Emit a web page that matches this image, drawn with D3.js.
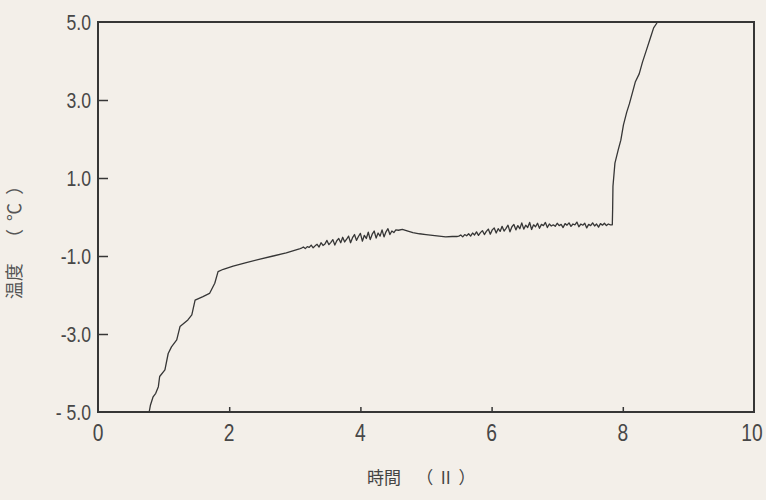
<!DOCTYPE html>
<html>
<head>
<meta charset="utf-8">
<script src="https://cdn.jsdelivr.net/npm/d3@7"></script>
<style>
  body { margin: 0; background: #f3efe9; }
  svg { display: block; }
</style>
</head>
<body>
<div id="chart"></div>
<script>
// Tick labels
const xTicks = [0, 2, 4, 6, 8, 10];
const yTicks = [5, 3, 1, -1, -3, -5];
const yTickLabels = ['5.0', '3.0', '1.0', '-1.0', '-3.0', '- 5.0'];

// Readings [hour, temperature]
const cooling = [
  [0.78, -5.00], [0.80, -4.82], [0.84, -4.61], [0.88, -4.52], [0.92, -4.35],
  [0.94, -4.09], [1.02, -3.92], [1.07, -3.50], [1.12, -3.33], [1.20, -3.15],
  [1.25, -2.81], [1.37, -2.64], [1.43, -2.51], [1.48, -2.13], [1.60, -2.04],
  [1.70, -1.96], [1.78, -1.70], [1.83, -1.40], [1.91, -1.34], [2.06, -1.26],
  [2.26, -1.17], [2.47, -1.08], [2.67, -1.00], [2.87, -0.92], [3.07, -0.82],
];
const plateau1 = [
  [3.10, -0.80], [3.13, -0.77], [3.16, -0.81], [3.19, -0.76], [3.22, -0.78],
  [3.25, -0.72], [3.28, -0.79], [3.31, -0.74], [3.34, -0.70], [3.37, -0.77],
  [3.40, -0.66], [3.43, -0.73], [3.46, -0.69], [3.49, -0.60], [3.52, -0.71],
  [3.55, -0.65], [3.58, -0.58], [3.61, -0.72], [3.64, -0.61], [3.67, -0.55],
  [3.70, -0.66], [3.73, -0.52], [3.76, -0.64], [3.79, -0.57], [3.82, -0.49],
  [3.85, -0.66], [3.88, -0.53], [3.91, -0.45], [3.94, -0.60], [3.97, -0.50],
  [4.00, -0.42], [4.03, -0.62], [4.06, -0.47], [4.09, -0.55], [4.12, -0.39],
  [4.15, -0.58], [4.18, -0.44], [4.21, -0.36], [4.24, -0.54], [4.27, -0.41],
  [4.30, -0.49], [4.33, -0.33], [4.36, -0.51], [4.39, -0.38], [4.42, -0.30],
  [4.45, -0.45], [4.48, -0.36], [4.51, -0.40], [4.54, -0.33], [4.58, -0.34],
];
const dip = [
  [4.64, -0.32], [4.70, -0.35], [4.80, -0.40], [4.90, -0.43], [5.00, -0.45],
  [5.10, -0.47], [5.20, -0.49], [5.30, -0.51], [5.40, -0.50], [5.47, -0.50],
];
const plateau2 = [
  [5.50, -0.49], [5.53, -0.46], [5.56, -0.51], [5.59, -0.45], [5.62, -0.48],
  [5.65, -0.43], [5.68, -0.49], [5.71, -0.41], [5.74, -0.46], [5.77, -0.38],
  [5.80, -0.47], [5.83, -0.40], [5.86, -0.35], [5.89, -0.45], [5.92, -0.37],
  [5.95, -0.31], [5.98, -0.44], [6.01, -0.33], [6.04, -0.28], [6.07, -0.41],
  [6.10, -0.30], [6.13, -0.37], [6.16, -0.24], [6.19, -0.36], [6.22, -0.29],
  [6.25, -0.21], [6.28, -0.38], [6.31, -0.25], [6.34, -0.19], [6.37, -0.33],
  [6.40, -0.22], [6.43, -0.30], [6.46, -0.15], [6.49, -0.31], [6.52, -0.21],
  [6.55, -0.27], [6.58, -0.14], [6.61, -0.32], [6.64, -0.20], [6.67, -0.25],
  [6.70, -0.16], [6.73, -0.29], [6.76, -0.19], [6.79, -0.22], [6.82, -0.14],
  [6.85, -0.27], [6.88, -0.18], [6.91, -0.23], [6.94, -0.20], [6.97, -0.24],
  [7.00, -0.16], [7.03, -0.22], [7.06, -0.19], [7.09, -0.27], [7.12, -0.17],
  [7.15, -0.21], [7.18, -0.15], [7.21, -0.24], [7.24, -0.18], [7.27, -0.20],
  [7.30, -0.13], [7.33, -0.25], [7.36, -0.18], [7.39, -0.21], [7.42, -0.16],
  [7.45, -0.28], [7.48, -0.19], [7.51, -0.22], [7.54, -0.15], [7.57, -0.23],
  [7.60, -0.18], [7.63, -0.26], [7.66, -0.17], [7.69, -0.21], [7.72, -0.16],
  [7.75, -0.22], [7.78, -0.18], [7.81, -0.20], [7.84, -0.20],
];
const warming = [
  [7.845, 0.20], [7.85, 0.79], [7.88, 1.38], [7.93, 1.72], [7.97, 1.97],
  [8.01, 2.36], [8.06, 2.69], [8.10, 2.90], [8.15, 3.21], [8.19, 3.46],
  [8.25, 3.67], [8.30, 3.97], [8.36, 4.28], [8.42, 4.59], [8.47, 4.85],
  [8.53, 5.00],
];

const width = 766;
const height = 500;
const margin = { top: 22, right: 12, bottom: 88, left: 98 };

const x = d3.scaleLinear().domain([0, 10]).range([margin.left, width - margin.right]);
const y = d3.scaleLinear().domain([-5, 5]).range([height - margin.bottom, margin.top]);

const ink = '#363636';
const labelFont = '"Liberation Sans", Arial, sans-serif';
const cjkFont = '"Noto Sans CJK JP", sans-serif';

const svg = d3.select('#chart')
  .append('svg')
  .attr('width', width)
  .attr('height', height);

svg.append('rect')
  .attr('width', width)
  .attr('height', height)
  .attr('fill', '#f3efe9');

// Frame
svg.append('rect')
  .attr('x', x(0))
  .attr('y', y(5))
  .attr('width', x(10) - x(0))
  .attr('height', y(-5) - y(5))
  .attr('fill', 'none')
  .attr('stroke', ink)
  .attr('stroke-width', 2);

// Y axis ticks point inward
const yAxis = d3.axisRight(y)
  .tickValues(yTicks.filter(d => d !== 5 && d !== -5))
  .tickSize(10)
  .tickFormat('');
svg.append('g')
  .attr('transform', `translate(${x(0)},0)`)
  .call(yAxis)
  .call(g => g.select('.domain').remove())
  .call(g => g.selectAll('.tick line').attr('stroke', ink).attr('stroke-width', 1.5));

// narrow-looking tick labels: squeeze horizontally
svg.append('g')
  .selectAll('text')
  .data(yTicks)
  .join('text')
  .attr('transform', d => `translate(${x(0) - 7},${y(d) + 8}) scale(0.8,1)`)
  .attr('text-anchor', 'end')
  .attr('font-family', labelFont)
  .attr('font-size', 22)
  .attr('fill', '#474747')
  .text((d, i) => yTickLabels[i]);

// X axis ticks point inward
const xAxis = d3.axisTop(x)
  .tickValues(xTicks.filter(d => d !== 0 && d !== 10))
  .tickSize(5)
  .tickFormat('');
svg.append('g')
  .attr('transform', `translate(0,${y(-5)})`)
  .call(xAxis)
  .call(g => g.select('.domain').remove())
  .call(g => g.selectAll('.tick line').attr('stroke', ink).attr('stroke-width', 1.5));

svg.append('g')
  .selectAll('text')
  .data(xTicks)
  .join('text')
  .attr('transform', d => `translate(${x(d) - (d === 10 ? 2 : 0)},${y(-5) + 29}) scale(0.8,1)`)
  .attr('text-anchor', 'middle')
  .attr('font-family', labelFont)
  .attr('font-size', 24)
  .attr('fill', '#474747')
  .text(d => d);

// Axis titles
svg.append('text')
  .attr('transform', 'translate(21,238) rotate(-90)')
  .attr('text-anchor', 'middle')
  .attr('font-family', cjkFont)
  .attr('font-size', 18)
  .attr('fill', '#555')
  .attr('xml:space', 'preserve')
  .style('white-space', 'pre')
  .text('温度    （  ℃  ）');

svg.append('text')
  .attr('x', 367)
  .attr('y', 484)
  .attr('font-family', cjkFont)
  .attr('font-size', 17)
  .attr('fill', '#444')
  .style('white-space', 'pre')
  .text('時間    （  II  ）');

// Temperature trace
const readings = [...cooling, ...plateau1, ...dip, ...plateau2, ...warming];
const trace = d3.line()
  .x(d => x(d[0]))
  .y(d => y(d[1]));

svg.append('path')
  .attr('d', trace(readings))
  .attr('fill', 'none')
  .attr('stroke', ink)
  .attr('stroke-width', 1.3)
  .attr('stroke-linejoin', 'round');
</script>
</body>
</html>
